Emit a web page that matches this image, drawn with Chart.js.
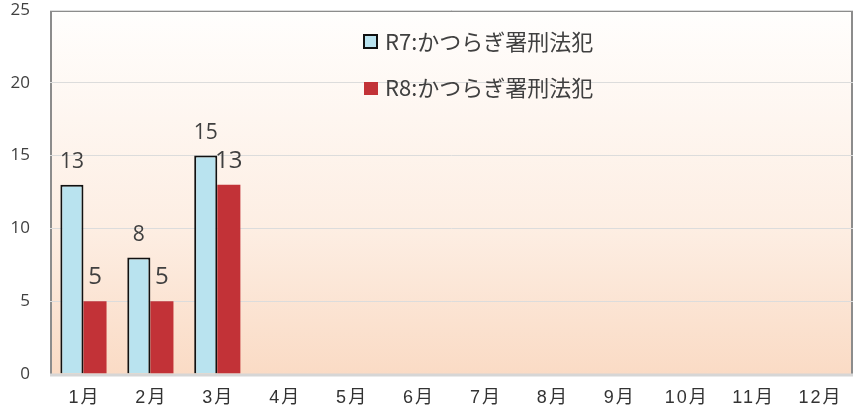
<!DOCTYPE html>
<html>
<head>
<meta charset="utf-8">
<script src="https://cdn.jsdelivr.net/npm/chart.js@4"></script>
<style>
    html, body { margin: 0; padding: 0; background: #ffffff; }
    #wrap { width: 859px; height: 415px; }
</style>
</head>
<body>
<div id="wrap"><canvas id="crimeChart" width="859" height="415"></canvas></div>
<script>
const months = ["1月", "2月", "3月", "4月", "5月", "6月", "7月", "8月", "9月", "10月", "11月", "12月"];
const r7Values = [13, 8, 15, null, null, null, null, null, null, null, null, null];
const r8Values = [5, 5, 13, null, null, null, null, null, null, null, null, null];
const seriesNames = ["R7:かつらぎ署刑法犯", "R8:かつらぎ署刑法犯"];
const yTicks = [0, 5, 10, 15, 20, 25];

const textColor = "#404040";
const blueFill = "#b9e3ef";
const redFill = "#c23237";

// peach background of the plot area + frame
const plotBackground = {
    id: "plotBackground",
    beforeDraw(chart) {
        const { ctx, chartArea: a } = chart;
        const g = ctx.createLinearGradient(0, a.top, 0, a.bottom);
        g.addColorStop(0, "#fffefd");
        g.addColorStop(0.6, "#fdeee3");
        g.addColorStop(1, "#fadbc5");
        ctx.save();
        ctx.fillStyle = g;
        ctx.fillRect(a.left, a.top, a.right - a.left, a.bottom - a.top);
        ctx.strokeStyle = "#8c8c8c";
        ctx.lineWidth = 2;
        ctx.beginPath();
        ctx.moveTo(a.left + 1, a.bottom);
        ctx.lineTo(a.left + 1, a.top + 1);
        ctx.lineTo(a.right - 1, a.top + 1);
        ctx.lineTo(a.right - 1, a.bottom);
        ctx.stroke();
        ctx.restore();
    },
    afterDatasetsDraw(chart) {
        const { ctx, chartArea: a } = chart;
        ctx.save();
        ctx.strokeStyle = "#d6d6d6";
        ctx.lineWidth = 3;
        ctx.beginPath();
        ctx.moveTo(a.left, a.bottom + 1);
        ctx.lineTo(a.right, a.bottom + 1);
        ctx.stroke();
        ctx.restore();
    }
};

// month labels drawn with wider letter spacing
const monthLabels = {
    id: "monthLabels",
    afterDraw(chart) {
        const { ctx, scales: { x } } = chart;
        ctx.save();
        ctx.font = "18px 'Liberation Sans', 'Noto Sans CJK JP'";
        ctx.letterSpacing = "2px";
        ctx.fillStyle = "#333333";
        ctx.textAlign = "center";
        ctx.textBaseline = "middle";
        months.forEach((m, i) => {
            ctx.fillText(m, x.getPixelForTick(i) + 1, 398);
        });
        ctx.restore();
    }
};

// value labels above the bars
const valueLabels = {
    id: "valueLabels",
    afterDatasetsDraw(chart) {
        const { ctx } = chart;
        ctx.save();
        ctx.fillStyle = textColor;
        ctx.textAlign = "center";
        ctx.textBaseline = "middle";
        chart.data.datasets.forEach((ds, i) => {
            const meta = chart.getDatasetMeta(i);
            ctx.font = i === 0 ? "21px 'Open Sans'" : "24px 'Open Sans'";
            const lift = i === 0 ? 23 : 24;
            meta.data.forEach((bar, j) => {
                if (ds.data[j] == null) return;
                ctx.fillText(String(ds.data[j]), bar.x, bar.y - lift);
            });
        });
        ctx.restore();
    }
};

// legend sitting inside the plot
const innerLegend = {
    id: "innerLegend",
    afterDraw(chart) {
        const { ctx } = chart;
        const x = 363;
        const rows = [42, 88];
        ctx.save();
        ctx.font = "22px 'Noto Sans CJK JP'";
        ctx.textBaseline = "middle";
        rows.forEach((y, i) => {
            if (i === 0) {
                ctx.fillStyle = blueFill;
                ctx.fillRect(x + 1, y - 7, 13, 13);
                ctx.strokeStyle = "#111";
                ctx.lineWidth = 2;
                ctx.strokeRect(x + 1, y - 7, 13, 13);
            } else {
                ctx.fillStyle = redFill;
                ctx.fillRect(x + 1, y - 6, 14, 13);
            }
            ctx.fillStyle = textColor;
            ctx.fillText(seriesNames[i], x + 22, y);
        });
        ctx.restore();
    }
};

new Chart(document.getElementById("crimeChart"), {
    type: "bar",
    data: {
        labels: months,
        datasets: [{
            label: seriesNames[0],
            data: r7Values,
            backgroundColor: blueFill,
            borderColor: "#111111",
            borderWidth: 2,
            borderSkipped: "bottom"
        }, {
            label: seriesNames[1],
            data: r8Values,
            backgroundColor: redFill,
            borderWidth: 0
        }]
    },
    options: {
        responsive: false,
        animation: false,
        devicePixelRatio: 1,
        layout: { padding: { top: 10, right: 6, left: 0, bottom: 0 } },
        datasets: { bar: { categoryPercentage: 0.69, barPercentage: 1 } },
        plugins: {
            legend: { display: false },
            tooltip: { enabled: false }
        },
        scales: {
            x: {
                grid: { display: false, drawTicks: false },
                border: { display: false },
                ticks: { display: false },
                afterFit(scale) { scale.height = 41; }
            },
            y: {
                min: 0,
                max: 25,
                afterBuildTicks(scale) { scale.ticks = yTicks.map(v => ({ value: v })); },
                grid: { color: "#dcdcdc", lineWidth: 1, drawTicks: false },
                border: { display: false },
                ticks: {
                    color: textColor,
                    font: { family: "'Open Sans'", size: 17 },
                    padding: 20
                },
                afterFit(scale) {
                    scale.width = 50;
                    scale.paddingTop = 0;
                    scale.paddingBottom = 0;
                }
            }
        }
    },
    plugins: [plotBackground, valueLabels, innerLegend, monthLabels]
});
</script>
</body>
</html>
